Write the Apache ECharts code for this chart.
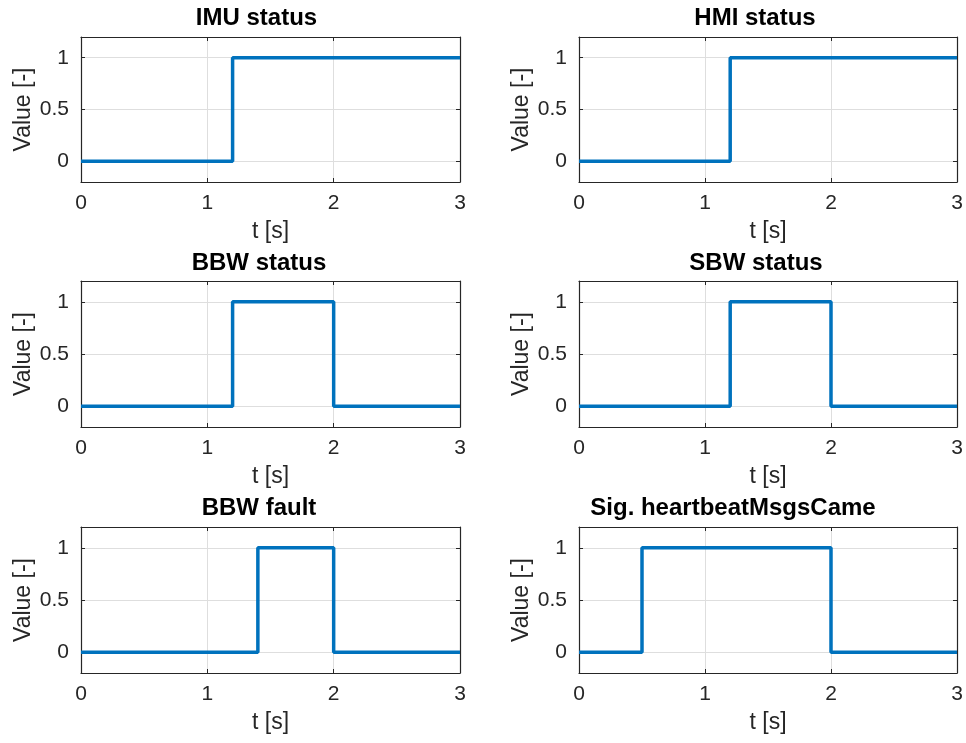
<!DOCTYPE html>
<html>
<head>
<meta charset="utf-8">
<script src="https://cdn.jsdelivr.net/npm/echarts@6/dist/echarts.min.js"></script>
<style>
html,body{margin:0;padding:0;background:#fff;}
#main{width:966px;height:743px;}
</style>
</head>
<body>
<div id="main"></div>
<script>
// ---- data ----
const titles = ['IMU status', 'HMI status', 'BBW status', 'SBW status', 'BBW fault', 'Sig. heartbeatMsgsCame'];
const tIMU = [0, 1.2, 3];          const vIMU = [0, 1, 1];
const tHMI = [0, 1.2, 3];          const vHMI = [0, 1, 1];
const tBBW = [0, 1.2, 2, 3];       const vBBW = [0, 1, 0, 0];
const tSBW = [0, 1.2, 2, 3];       const vSBW = [0, 1, 0, 0];
const tFault = [0, 1.4, 2, 3];     const vFault = [0, 1, 0, 0];
const tHeart = [0, 0.5, 2, 3];     const vHeart = [0, 1, 0, 0];
const xTicks = [0, 1, 2, 3];
const yTicks = [0, 0.5, 1];
const xLabel = 't [s]';
const yLabel = 'Value [-]';

// ---- layout ----
const seriesT = [tIMU, tHMI, tBBW, tSBW, tFault, tHeart];
const seriesV = [vIMU, vHMI, vBBW, vSBW, vFault, vHeart];
const colLeft = [81, 579];
const colWidth = [379, 378];
const rowTop = [37, 281, 527];
const rowHeight = [145, 146, 146];
const titleCenter = [256.5, 755, 259, 756, 259, 733];
const titleTop = [6, 251, 496];

const axisColor = '#262626';
const gridColor = '#dedede';
const font = 'Liberation Sans, Arial, Helvetica, sans-serif';

const grid = [], xAxis = [], yAxis = [], series = [], title = [];
for (let i = 0; i < 6; i++) {
  const c = i % 2, r = Math.floor(i / 2);
  grid.push({left: colLeft[c], top: rowTop[r], width: colWidth[c], height: rowHeight[r], containLabel: false});
  title.push({
    text: titles[i], left: titleCenter[i], top: titleTop[r], textAlign: 'center', padding: 0,
    textStyle: {fontFamily: font, fontSize: 24, fontWeight: 'bold', color: '#000'}
  });
  // main bottom x axis
  xAxis.push({
    type: 'value', gridIndex: i, min: xTicks[0], max: xTicks[xTicks.length - 1], interval: 1,
    position: 'bottom',
    name: xLabel, nameLocation: 'middle', nameGap: 38,
    nameTextStyle: {fontFamily: font, fontSize: 23, color: axisColor},
    axisLine: {show: true, onZero: false, lineStyle: {color: axisColor, width: 1.2}},
    axisTick: {show: true, inside: true, length: 4, lineStyle: {color: axisColor}},
    axisLabel: {fontFamily: font, fontSize: 21, color: axisColor, margin: 11},
    splitLine: {show: true, lineStyle: {color: gridColor, width: 1}}
  });
  // top box x axis
  xAxis.push({
    type: 'value', gridIndex: i, min: xTicks[0], max: xTicks[xTicks.length - 1], interval: 1,
    position: 'top',
    axisLine: {show: true, onZero: false, lineStyle: {color: axisColor, width: 1.2}},
    axisTick: {show: true, inside: true, length: 4, lineStyle: {color: axisColor}},
    axisLabel: {show: false},
    splitLine: {show: false}
  });
  yAxis.push({
    type: 'value', gridIndex: i, min: -0.2, max: 1.2,
    position: 'left',
    name: yLabel, nameLocation: 'middle', nameGap: 46,
    nameTextStyle: {fontFamily: font, fontSize: 23, color: axisColor},
    axisLine: {show: true, onZero: false, lineStyle: {color: axisColor, width: 1.2}},
    axisTick: {show: true, inside: true, length: 4, customValues: yTicks, lineStyle: {color: axisColor}},
    axisLabel: {fontFamily: font, fontSize: 21, color: axisColor, margin: 12, customValues: yTicks},
    splitLine: {show: true, lineStyle: {color: gridColor, width: 1}}
  });
  yAxis.push({
    type: 'value', gridIndex: i, min: -0.2, max: 1.2,
    position: 'right',
    axisLine: {show: true, onZero: false, lineStyle: {color: axisColor, width: 1.2}},
    axisTick: {show: true, inside: true, length: 4, customValues: yTicks, lineStyle: {color: axisColor}},
    axisLabel: {show: false},
    splitLine: {show: false}
  });
  const t = seriesT[i], v = seriesV[i];
  series.push({
    type: 'line', xAxisIndex: 2 * i, yAxisIndex: 2 * i, step: 'end',
    data: t.map((x, k) => [x, v[k]]),
    showSymbol: false, symbol: 'none',
    lineStyle: {color: '#0072BD', width: 3.5},
    animation: false
  });
}

const chart = echarts.init(document.getElementById('main'), null, {renderer: 'canvas'});
chart.setOption({
  animation: false,
  backgroundColor: '#fff',
  title, grid, xAxis, yAxis, series
});
</script>
</body>
</html>
